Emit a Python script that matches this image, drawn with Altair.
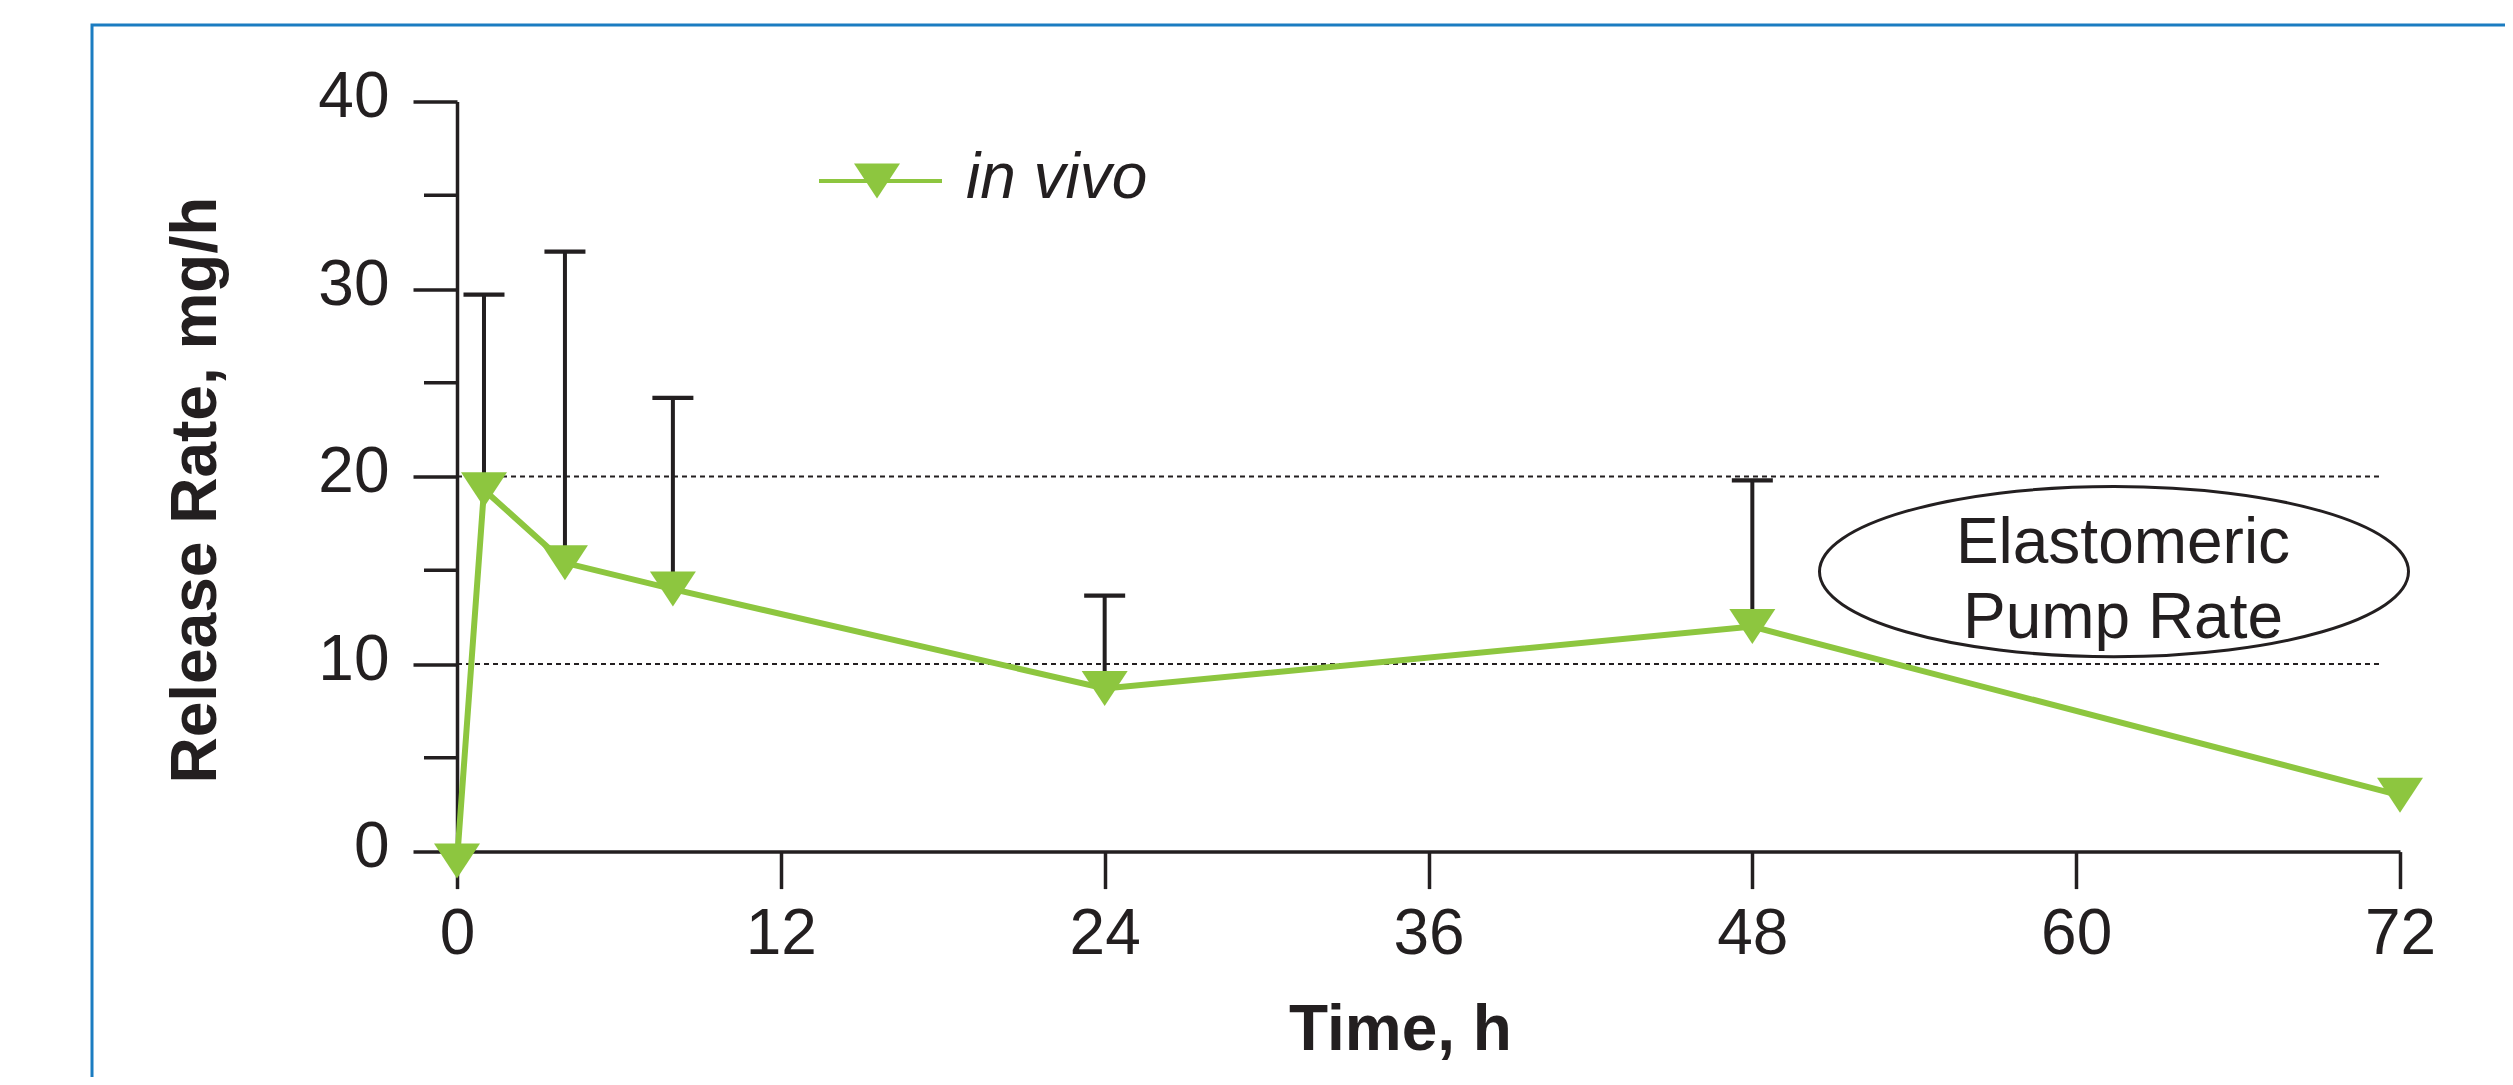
import altair as alt
import pandas as pd

# ---- data ----
time_h = [0, 1, 4, 8, 24, 48, 72]
release_rate = [-0.5, 19.3, 15.4, 14.0, 8.7, 12.0, 3.0]
err_time = [1, 4, 8, 24, 48]
err_upper = [29.7, 32.0, 24.2, 13.65, 19.8]
x_ticks = [0, 12, 24, 36, 48, 60, 72]
y_ticks = [0, 10, 20, 30, 40]
y_minor_ticks = [5, 15, 25, 35]
pump_band = [10, 20]
series_label = ["in vivo"]
annotation = ["Elastomeric", "Pump Rate"]

GREEN = "#8DC63F"
INK = "#231F20"
BLUE = "#1B7CC1"
FONT = "Liberation Sans"
TRI = "M-1,-0.76L1,-0.76L0,0.76Z"
ELLIPSE = "M-1,0A1,0.289,0,1,1,1,0A1,0.289,0,1,1,-1,0Z"

df_main = pd.DataFrame({"t": time_h, "v": release_rate})
lookup = dict(zip(time_h, release_rate))
df_err = pd.DataFrame({"t": err_time, "v": [lookup[t] for t in err_time], "upper": err_upper})
df_minor = pd.DataFrame({"v": y_minor_ticks})
df_band = pd.DataFrame({"v": pump_band})

x_axis = alt.Axis(values=x_ticks, tickSize=37, tickWidth=3.5, tickColor=INK,
                  domainWidth=3.5, domainColor=INK, labelFontSize=64, labelFont=FONT,
                  labelColor=INK, labelPadding=14, labelOverlap=False, labelFlush=False,
                  grid=False, title="Time, h", titleFont=FONT, titleFontSize=64,
                  titleFontWeight="bold", titleColor=INK, titleX=943, titleY=198,
                  titleAlign="center", titleBaseline="alphabetic", format="d")
y_axis = alt.Axis(values=y_ticks, tickSize=44, tickWidth=3.5, tickColor=INK,
                  domainWidth=3.5, domainColor=INK, labelFontSize=64, labelFont=FONT,
                  labelColor=INK, labelPadding=24, labelOffset=-4, labelOverlap=False,
                  labelFlush=False, grid=False, title="Release Rate, mg/h", titleFont=FONT,
                  titleFontSize=64, titleFontWeight="bold", titleColor=INK,
                  titleX=-242, titleY=388, titleAngle=270, titleAlign="center",
                  titleBaseline="alphabetic", format="d")
xs = alt.Scale(domain=[0, 72], nice=False, zero=False)
ys = alt.Scale(domain=[0, 40], nice=False)

X = alt.X("t:Q", scale=xs, axis=x_axis)
Y = alt.Y("v:Q", scale=ys, axis=y_axis)

band = alt.Chart(df_band).mark_rule(color=INK, strokeWidth=2, strokeDash=[5, 4]).encode(
    y=Y, x=alt.value(0), x2=alt.value(1922))

minor = alt.Chart(df_minor).mark_rule(color=INK, strokeWidth=3.5).encode(
    y=Y, x=alt.value(-33), x2=alt.value(0))

ellipse = alt.Chart(alt.Data(values=[{"k": 1}])).mark_point(
    shape=ELLIPSE, size=589 ** 2, filled=False, stroke=INK, strokeWidth=3, opacity=1
).encode(x=alt.value(1657), y=alt.value(470))

ell_text = alt.Chart(alt.Data(values=[{"label": "\n".join(annotation)}])).mark_text(
    font=FONT, fontSize=64, color=INK, align="center", baseline="alphabetic",
    lineBreak="\n", lineHeight=75
).encode(x=alt.value(1666), y=alt.value(461), text="label:N")

err_rule = alt.Chart(df_err).mark_rule(color=INK, strokeWidth=4).encode(
    x=X, y=Y, y2="upper:Q")
err_cap = alt.Chart(df_err).mark_tick(color=INK, orient="horizontal", size=41,
                                      thickness=4.3, opacity=1).encode(
    x=X, y=alt.Y("upper:Q", scale=ys, axis=y_axis))

line = alt.Chart(df_main).mark_line(color=GREEN, strokeWidth=6).encode(x=X, y=Y)
pts = alt.Chart(df_main).mark_point(shape=TRI, size=46 ** 2, filled=True, color=GREEN,
                                    opacity=1).encode(x=X, y=Y)

leg_data = alt.Data(values=[{"label": s} for s in series_label])
leg_line = alt.Chart(leg_data).mark_rule(color=GREEN, strokeWidth=4).encode(
    x=alt.value(362), x2=alt.value(485), y=alt.value(79.4))
leg_pt = alt.Chart(leg_data).mark_point(shape=TRI, size=46 ** 2, filled=True, color=GREEN,
                                        opacity=1).encode(x=alt.value(420), y=alt.value(79.4))
leg_txt = alt.Chart(leg_data).mark_text(font=FONT, fontSize=64, fontStyle="italic", color=INK,
                                        align="left", baseline="alphabetic").encode(
    x=alt.value(509), y=alt.value(96.4), text="label:N")

border = alt.Chart(alt.Data(values=[{"k": 1}])).mark_rect(
    fillOpacity=0, stroke=BLUE, strokeWidth=3
).encode(x=alt.value(-365), x2=alt.value(2700), y=alt.value(-76.6), y2=alt.value(1300))

chart = alt.layer(
    band, minor, ellipse, ell_text, err_rule, err_cap, line, pts,
    leg_line, leg_pt, leg_txt, border
).properties(
    width=1943, height=750,
    autosize=alt.AutoSizeParams(type="none"),
    padding={"left": 449, "top": 93.6, "right": 105, "bottom": 225},
    background="white",
).configure_view(stroke=None)

chart.save("out.html", embed_options={"renderer": "svg", "actions": False})
